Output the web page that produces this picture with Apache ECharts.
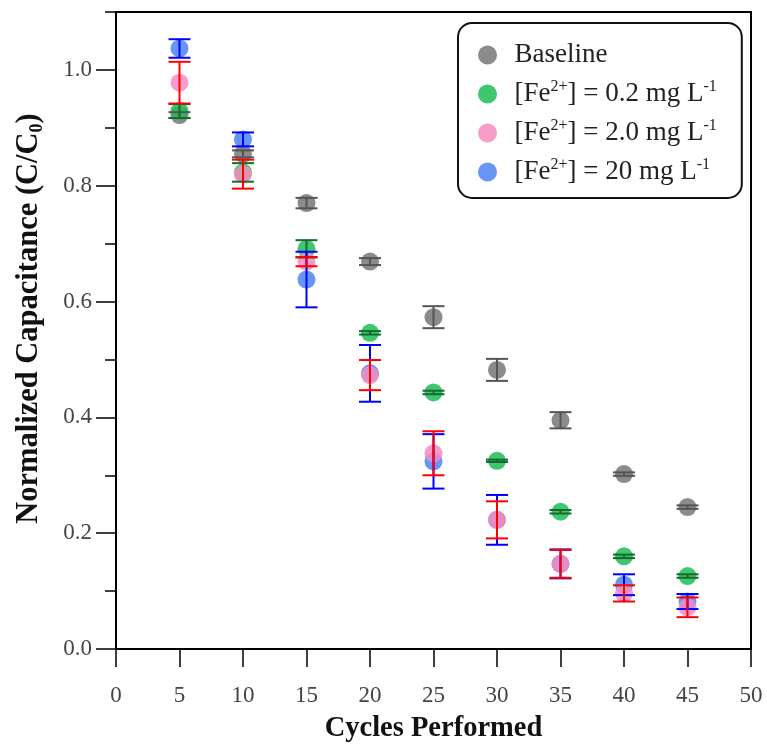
<!DOCTYPE html>
<html>
<head>
<meta charset="utf-8">
<script src="https://cdn.jsdelivr.net/npm/echarts@6/dist/echarts.min.js"></script>
<style>
  html, body { margin: 0; padding: 0; background: #fff; }
  #chart { width: 767px; height: 746px; }
</style>
</head>
<body>
<div id="chart"></div>
<script>
// Capacitance retention over repeated cycles, by Fe2+ concentration
const cycles = [5, 10, 15, 20, 25, 30, 35, 40, 45];

const baseline    = [0.922, 0.855, 0.770, 0.669, 0.573, 0.482, 0.395, 0.302, 0.245];
const baselineErr = [0.005, 0.006, 0.009, 0.006, 0.019, 0.019, 0.014, 0.003, 0.003];

const fe02    = [0.929, 0.823, 0.691, 0.546, 0.443, 0.325, 0.237, 0.160, 0.126];
const fe02Err = [0.012, 0.016, 0.015, 0.003, 0.003, 0.002, 0.003, 0.003, 0.003];

const fe2    = [0.978, 0.820, 0.669, 0.473, 0.338, 0.223, 0.147, 0.096, 0.072];
const fe2Err = [0.036, 0.025, 0.008, 0.026, 0.038, 0.032, 0.024, 0.014, 0.017];

const fe20    = [1.037, 0.880, 0.638, 0.476, 0.324, 0.223, 0.147, 0.111, 0.082];
const fe20Err = [0.016, 0.012, 0.048, 0.049, 0.047, 0.043, 0.025, 0.018, 0.013];

const seriesNames = ['Baseline', 'Fe 0.2', 'Fe 2.0', 'Fe 20'];
const legendLabels = [
  'Baseline',
  '[Fe{sup|2+}] = 0.2 mg L{sup|-1}',
  '[Fe{sup|2+}] = 2.0 mg L{sup|-1}',
  '[Fe{sup|2+}] = 20 mg L{sup|-1}'
];

const yMajorTicks = [0, 0.2, 0.4, 0.6, 0.8, 1.0];
const yMinorTicks = [0.1, 0.3, 0.5, 0.7, 0.9, 1.1];

const FONT = "'Liberation Serif', 'DejaVu Serif', serif";

// drawing order: gray, green, blue, pink
const groups = [
  { name: seriesNames[0], vals: baseline, errs: baselineErr, fill: '#777777', bar: '#555555' },
  { name: seriesNames[1], vals: fe02,     errs: fe02Err,     fill: '#1fbd55', bar: '#146b30' },
  { name: seriesNames[3], vals: fe20,     errs: fe20Err,     fill: '#4d84f2', bar: '#0000ff' },
  { name: seriesNames[2], vals: fe2,      errs: fe2Err,      fill: '#f78cc0', bar: '#ff0000' }
];

function zip(vals, errs) {
  return cycles.map((c, i) => [c, vals[i], errs[i]]);
}

const series = [];
groups.forEach((g, k) => {
  series.push({
    name: g.name,
    type: 'scatter',
    symbol: 'circle',
    symbolSize: 18,
    z: 2 + k,
    itemStyle: { color: g.fill, opacity: 0.85 },
    data: cycles.map((c, i) => [c, g.vals[i]])
  });
});
groups.forEach((g, k) => {
  series.push({
    name: g.name + ' err',
    type: 'custom',
    z: 10 + k,
    data: zip(g.vals, g.errs),
    renderItem: function (params, api) {
      const x = api.value(0), y = api.value(1), e = api.value(2);
      const top = api.coord([x, y + e]);
      const bot = api.coord([x, y - e]);
      const hw = 11;
      const st = { stroke: g.bar, lineWidth: 2 };
      return {
        type: 'group',
        children: [
          { type: 'line', shape: { x1: top[0], y1: top[1], x2: bot[0], y2: bot[1] }, style: st },
          { type: 'line', shape: { x1: top[0] - hw, y1: top[1], x2: top[0] + hw, y2: top[1] }, style: st },
          { type: 'line', shape: { x1: bot[0] - hw, y1: bot[1], x2: bot[0] + hw, y2: bot[1] }, style: st }
        ]
      };
    }
  });
});

const chart = echarts.init(document.getElementById('chart'));
chart.setOption({
  animation: false,
  backgroundColor: '#ffffff',
  textStyle: { fontFamily: FONT },
  grid: {
    left: 116, right: 16, top: 12, bottom: 97,
    outerBoundsMode: 'none',
    containLabel: false,
    show: true, borderColor: '#000', borderWidth: 2, backgroundColor: 'transparent'
  },
  xAxis: {
    type: 'value',
    min: 0, max: 50, interval: 5,
    name: 'Cycles Performed',
    nameLocation: 'middle',
    nameGap: 65,
    nameTextStyle: { fontSize: 28.5, fontWeight: 'bold', color: '#111', fontFamily: FONT },
    axisLine: { lineStyle: { color: '#000', width: 2 } },
    axisTick: { length: 18, lineStyle: { color: '#000', width: 1.5 } },
    axisLabel: { fontSize: 23, color: '#444', margin: 35, fontFamily: FONT },
    splitLine: { show: false }
  },
  yAxis: [
    {
      type: 'value',
      min: 0, max: 1.1,
      name: 'Normalized Capacitance (C/C{sub|0})',
      nameLocation: 'middle',
      nameGap: 70,
      nameTextStyle: {
        fontSize: 30.5, fontWeight: 'bold', color: '#111', fontFamily: FONT, lineHeight: 34,
        padding: [0, 0, 0, 24],
        rich: { sub: { fontSize: 18, fontWeight: 'bold', verticalAlign: 'bottom', lineHeight: 18, color: '#111', fontFamily: FONT } }
      },
      axisLine: { show: true, lineStyle: { color: '#000', width: 2 } },
      axisTick: { show: true, length: 20, customValues: yMajorTicks, lineStyle: { color: '#000', width: 1.5 } },
      axisLabel: {
        fontSize: 23, color: '#444', margin: 24, fontFamily: FONT,
        customValues: yMajorTicks,
        formatter: v => v.toFixed(1)
      },
      splitLine: { show: false }
    },
    {
      type: 'value',
      min: 0, max: 1.1,
      position: 'left',
      axisLine: { show: false },
      axisTick: { show: true, length: 11, customValues: yMinorTicks, lineStyle: { color: '#000', width: 1.5 } },
      axisLabel: { show: false },
      splitLine: { show: false }
    }
  ],
  legend: {
    data: [seriesNames[0], seriesNames[1], seriesNames[2], seriesNames[3]],
    orient: 'vertical',
    left: 458, top: 23,
    padding: [17, 25, 11, 20],
    itemWidth: 44, itemHeight: 19,
    itemGap: 9,
    icon: 'circle',
    backgroundColor: '#fff',
    borderColor: '#111', borderWidth: 2, borderRadius: 14,
    formatter: name => legendLabels[seriesNames.indexOf(name)],
    textStyle: {
      fontSize: 27, color: '#222', fontFamily: FONT, lineHeight: 30,
      rich: { sup: { fontSize: 16, verticalAlign: 'top', lineHeight: 17, color: '#222', fontFamily: FONT } }
    }
  },
  series: series
});
</script>
</body>
</html>
